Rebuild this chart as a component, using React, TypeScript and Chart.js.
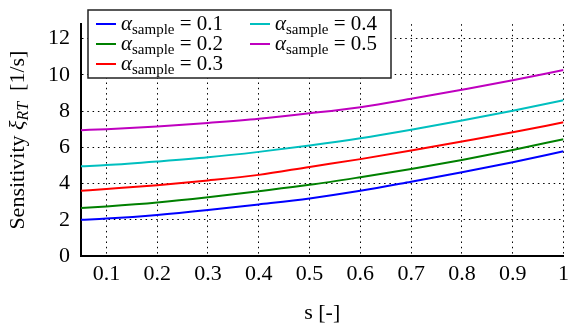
import React, { useEffect, useRef } from "react";
import { Chart, registerables } from "chart.js";

Chart.register(...registerables);

const sValues = [0.05, 0.1, 0.2, 0.3, 0.4, 0.5, 0.6, 0.7, 0.8, 0.9, 1.0];
const alpha01 = [2.0, 2.07, 2.27, 2.54, 2.85, 3.18, 3.6, 4.1, 4.62, 5.18, 5.78];
const alpha02 = [2.65, 2.74, 2.96, 3.25, 3.58, 3.93, 4.35, 4.8, 5.3, 5.85, 6.45];
const alpha03 = [3.6, 3.7, 3.91, 4.17, 4.48, 4.92, 5.35, 5.82, 6.32, 6.83, 7.38];
const alpha04 = [4.95, 5.02, 5.22, 5.45, 5.75, 6.1, 6.5, 6.97, 7.48, 8.02, 8.6];
const alpha05 = [6.95, 7.0, 7.15, 7.35, 7.58, 7.88, 8.22, 8.68, 9.18, 9.7, 10.27];

const seriesLabels = ["0.1", "0.2", "0.3", "0.4", "0.5"];
const seriesValues = [alpha01, alpha02, alpha03, alpha04, alpha05];
const seriesColors = ["#0000ff", "#008000", "#ff0000", "#00bfbf", "#bf00bf"];

const xTicks = [0.1, 0.2, 0.3, 0.4, 0.5, 0.6, 0.7, 0.8, 0.9, 1.0];
const xTickLabels = ["0.1", "0.2", "0.3", "0.4", "0.5", "0.6", "0.7", "0.8", "0.9", "1"];
const yTicks = [0, 2, 4, 6, 8, 10, 12];
const yTickLabels = ["0", "2", "4", "6", "8", "10", "12"];

const SERIF = "'Liberation Serif', 'DejaVu Serif', serif";

type Part = { t: string; f: string; dy?: number };

function drawParts(ctx: CanvasRenderingContext2D, parts: Part[], x: number, y: number) {
  let cx = x;
  for (const p of parts) {
    ctx.font = p.f;
    ctx.fillText(p.t, cx, y + (p.dy || 0));
    cx += ctx.measureText(p.t).width;
  }
  return cx;
}
function measureParts(ctx: CanvasRenderingContext2D, parts: Part[]) {
  let w = 0;
  for (const p of parts) {
    ctx.font = p.f;
    w += ctx.measureText(p.t).width;
  }
  return w;
}

const decorPlugin = {
  id: "decor",
  afterDraw(chart: any) {
    const ctx: CanvasRenderingContext2D = chart.ctx;
    const area = chart.chartArea;
    ctx.save();
    ctx.fillStyle = "#000";
    ctx.textBaseline = "alphabetic";

    // Y axis title
    const yParts: Part[] = [
      { t: "Sensitivity ", f: `22px ${SERIF}` },
      { t: "ξ", f: `italic 22px ${SERIF}` },
      { t: "RT", f: `italic 16px ${SERIF}`, dy: 4 },
      { t: "  [1/s]", f: `22px ${SERIF}` },
    ];
    const yw = measureParts(ctx, yParts);
    ctx.save();
    ctx.translate(17, (area.top + area.bottom) / 2);
    ctx.rotate(-Math.PI / 2);
    drawParts(ctx, yParts, -yw / 2, 7);
    ctx.restore();

    // X axis title
    const xParts: Part[] = [{ t: "s [-]", f: `22px ${SERIF}` }];
    const xw = measureParts(ctx, xParts);
    drawParts(ctx, xParts, (area.left + area.right) / 2 - xw / 2, 319);

    // Legend
    const bx = 88, by = 10, bw = 303, bh = 68;
    ctx.fillStyle = "#fff";
    ctx.fillRect(bx, by, bw, bh);
    ctx.strokeStyle = "#222";
    ctx.lineWidth = 1.5;
    ctx.strokeRect(bx, by, bw, bh);
    const colX = [96, 250];
    const rowY = [24, 44, 64];
    chart.data.datasets.forEach((ds: any, i: number) => {
      const col = i < 3 ? 0 : 1;
      const row = i < 3 ? i : i - 3;
      const x = colX[col];
      const y = rowY[row];
      ctx.strokeStyle = ds.borderColor;
      ctx.lineWidth = 2;
      ctx.beginPath();
      ctx.moveTo(x, y);
      ctx.lineTo(x + 20, y);
      ctx.stroke();
      ctx.fillStyle = "#000";
      drawParts(
        ctx,
        [
          { t: "α", f: `italic 21px ${SERIF}` },
          { t: "sample", f: `15px ${SERIF}`, dy: 4 },
          { t: " = " + ds.label, f: `21px ${SERIF}` },
        ],
        x + 25,
        y + 6
      );
    });
    ctx.restore();
  },
};

export default function App() {
  const ref = useRef<HTMLCanvasElement | null>(null);
  useEffect(() => {
    if (!ref.current) return;
    const chart = new Chart(ref.current, {
      type: "line",
      data: {
        datasets: seriesValues.map((vals, i) => ({
          label: seriesLabels[i],
          data: sValues.map((s, j) => ({ x: s, y: vals[j] })),
          borderColor: seriesColors[i],
          backgroundColor: seriesColors[i],
          borderWidth: 2,
          pointRadius: 0,
          cubicInterpolationMode: "monotone" as const,
          fill: false,
        })),
      },
      options: {
        animation: false,
        responsive: false,
        maintainAspectRatio: false,
        layout: { padding: { top: 10, right: 4, bottom: 0, left: 0 } },
        plugins: { legend: { display: false }, tooltip: { enabled: false } },
        scales: {
          x: {
            type: "linear",
            min: 0.05,
            max: 1,
            afterBuildTicks: (s: any) => {
              s.ticks = xTicks.map((v) => ({ value: v }));
            },
            afterFit: (s: any) => {
              s.height = 69;
            },
            ticks: {
              autoSkip: false,
              maxRotation: 0,
              padding: 5,
              color: "#000",
              font: { family: SERIF, size: 22 },
              callback: (_v: any, i: number) => xTickLabels[i],
            },
            grid: { color: "#000", lineWidth: 1, drawTicks: false },
            border: { display: true, color: "#000", width: 2, dash: [1.5, 3.8] },
          },
          y: {
            type: "linear",
            min: 0,
            max: 12.8,
            afterBuildTicks: (s: any) => {
              s.ticks = yTicks.map((v) => ({ value: v }));
            },
            afterFit: (s: any) => {
              s.width = 81;
            },
            ticks: {
              autoSkip: false,
              padding: 11,
              color: "#000",
              font: { family: SERIF, size: 22 },
              callback: (_v: any, i: number) => yTickLabels[i],
            },
            grid: { color: "#000", lineWidth: 1, drawTicks: false },
            border: { display: true, color: "#000", width: 2, dash: [1.5, 3.8] },
          },
        },
      },
      plugins: [decorPlugin],
    });
    return () => chart.destroy();
  }, []);
  return (
    <div style={{ position: "fixed", left: 0, top: 0, width: 574, height: 325, background: "#fff" }}>
      <canvas ref={ref} width={574} height={325} style={{ width: 574, height: 325 }} />
    </div>
  );
}
